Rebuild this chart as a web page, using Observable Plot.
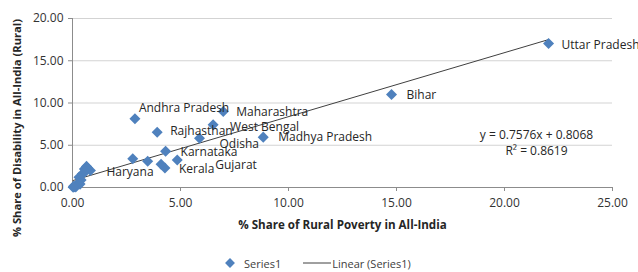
<!DOCTYPE html>
<html><head><meta charset="utf-8">
<script src="https://cdn.jsdelivr.net/npm/d3@7"></script>
<script src="https://cdn.jsdelivr.net/npm/@observablehq/plot@0.6"></script>
<style>
body{margin:0;background:#fff;font-family:"Open Sans",sans-serif;}
#chart svg{display:block;}
#legend{height:32px;display:flex;align-items:center;padding-left:224px;padding-top:14px;box-sizing:border-box;font-size:11px;color:#404040;}
#legend span{margin-right:6px;}
</style></head><body>
<div id="chart"></div>
<div id="legend">
<svg width="12" height="12" style="margin-right:8px"><rect x="2.5" y="2.5" width="7" height="7" fill="#4F81BD" transform="rotate(45 6 6)"/></svg><span style="margin-right:22px">Series1</span>
<svg width="28" height="10"><line x1="0" y1="5" x2="28" y2="5" stroke="#404040" stroke-width="1"/></svg><span style="margin-left:1px">Linear (Series1)</span>
</div>
<script>
const states = ["Uttar Pradesh","Bihar","Madhya Pradesh","Maharashtra","West Bengal","Odisha","Andhra Pradesh","Rajhasthan","Karnataka","Kerala","Gujarat","Haryana",
  "Tamil Nadu","Jharkhand","Chhattisgarh","Assam","Punjab","Uttarakhand","Himachal Pradesh","Jammu & Kashmir","Tripura","Meghalaya","Manipur","Nagaland","Mizoram","Arunachal Pradesh","Goa","Sikkim","Delhi"];
const povertyShare = [22.04,14.77,8.83,6.98,6.51,5.88,2.89,3.92,4.31,4.28,4.85,0.83,
  2.79,3.48,4.10,0.65,0.55,0.70,0.45,0.30,0.40,0.25,0.20,0.10,0.03,0.35,0.15,0.05,0.60];
const disabilityShare = [17.04,11.00,5.96,9.00,7.42,5.83,8.13,6.55,4.30,2.30,3.25,2.00,
  3.39,3.10,2.75,2.50,2.20,2.30,1.60,1.20,0.90,0.50,0.30,0.10,0.03,0.40,0.05,0.15,1.90];
const labeledStates = ["Uttar Pradesh","Bihar","Madhya Pradesh","Maharashtra","West Bengal","Odisha","Andhra Pradesh","Rajhasthan","Karnataka","Kerala","Gujarat","Haryana"];
const labelOffsets = [[13,2],[15,1],[15,0],[13,1],[17,2],[20,6],[4,-11],[13,-1],[15,1],[14,1],[38,5],[16,2]];
const xTicks = [0,5,10,15,20,25];
const yTicks = [0,5,10,15,20];
const trendSlope = 0.7576, trendIntercept = 0.8068, rSquared = 0.8619;
const xTitle = "% Share of Rural Poverty in All-India";
const yTitle = "% Share of Disability in All-India (Rural)";

const data = states.map((s,i)=>({state:s,x:povertyShare[i],y:disabilityShare[i]}));
const xMin = d3.min(povertyShare), xMax = d3.max(povertyShare);
const trend = [xMin,xMax].map(x=>({x, y: trendSlope*x + trendIntercept}));

const labelMarks = labeledStates.map((s,i)=>Plot.text(data.filter(d=>d.state===s),{
  x:"x",y:"y",text:"state",textAnchor:"start",dx:labelOffsets[i][0],dy:labelOffsets[i][1],
  fill:"#262626",fontSize:12}));

const chart = Plot.plot({
  width:638,height:240,
  marginLeft:72,marginRight:26,marginTop:18,marginBottom:53,
  style:{fontFamily:"Open Sans, sans-serif",background:"#fff"},
  x:{domain:[0,25]},
  y:{domain:[0,20]},
  marks:[
    Plot.ruleY(yTicks.slice(1),{stroke:"#d3d3d3"}),
    Plot.ruleY([0],{stroke:"#8c8c8c"}),
    Plot.ruleX([0],{stroke:"#8c8c8c"}),
    Plot.axisX({ticks:xTicks,tickFormat:d=>d.toFixed(2),tickSize:4,stroke:"#8c8c8c",fill:"#333",fontSize:12,tickPadding:7,label:null}),
    Plot.axisY({ticks:yTicks,tickFormat:d=>d.toFixed(2),tickSize:4,stroke:"#8c8c8c",fill:"#333",fontSize:12,tickPadding:5,label:null}),
    Plot.line(trend,{x:"x",y:"y",stroke:"#404040",strokeWidth:1}),
    Plot.dot(data,{x:"x",y:"y",symbol:"square",rotate:45,r:4.4,fill:"#4F81BD",stroke:null}),
    ...labelMarks,
    Plot.text([`y = ${trendSlope}x + ${trendIntercept}`],{frameAnchor:"right",dx:-76,dy:32,textAnchor:"middle",fill:"#262626",fontSize:12}),
    Plot.text([`R² = ${rSquared}`],{frameAnchor:"right",dx:-76,dy:48,textAnchor:"middle",fill:"#262626",fontSize:12}),
    Plot.text([xTitle],{frameAnchor:"bottom",dy:38,lineAnchor:"middle",textAnchor:"middle",fontWeight:"bold",fill:"#262626",fontSize:11.6}),
    Plot.text([yTitle],{frameAnchor:"left",dx:-55,dy:25,rotate:-90,textAnchor:"middle",lineAnchor:"middle",fontWeight:"bold",fill:"#262626",fontSize:11.2})
  ]
});
document.getElementById("chart").appendChild(chart);
</script>
</body></html>
